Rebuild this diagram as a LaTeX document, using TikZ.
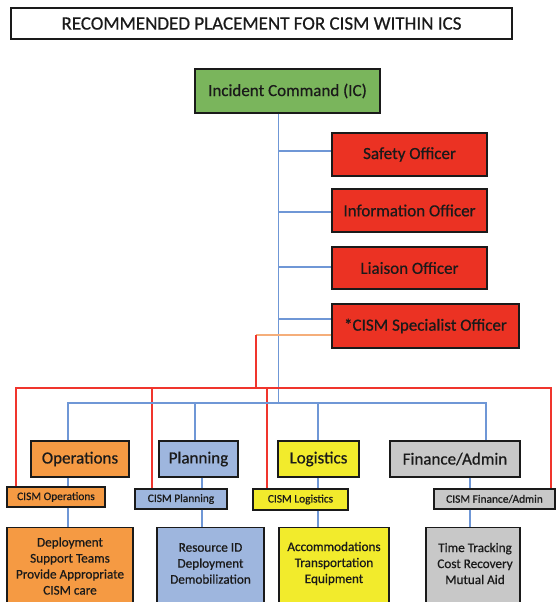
\documentclass[tikz,border=0pt]{standalone}
\usepackage{fontspec}
\setmainfont{Carlito}
\usetikzlibrary{positioning}
\definecolor{icgreen}{HTML}{7AB55C}
\definecolor{offred}{HTML}{EB3223}
\definecolor{opsorange}{HTML}{F59A43}
\definecolor{planblue}{HTML}{9EB6DE}
\definecolor{logyellow}{HTML}{F2EB2C}
\definecolor{fingray}{HTML}{C8C8C8}
\definecolor{lineblue}{HTML}{6F97D6}
\definecolor{linered}{HTML}{F0352D}
\definecolor{lineorange}{HTML}{F5AE7A}
\definecolor{ink}{HTML}{1A1A1A}
\newcommand\inkweight{\addfontfeatures{FakeBold=0.6}}

\begin{document}
\begin{tikzpicture}[x=1pt, y=-1pt,
	box/.style={draw=ink, line width=1.2pt, text=ink, inner sep=0pt, align=center},
	officer/.style={box, fill=offred, font=\fontsize{17}{20}\selectfont\inkweight, minimum height=43pt},
	section/.style={box, font=\fontsize{17}{20}\selectfont\inkweight, minimum height=36pt},
	cism/.style={box, font=\fontsize{11.4}{13}\selectfont\inkweight, minimum height=20pt},
	detail/.style={box, minimum height=90pt, anchor=north},
	dtext/.style={align=center, text=ink, inner sep=0pt, font=\fontsize{13.2}{16}\selectfont\inkweight},
	bline/.style={draw=lineblue, line width=1.3pt},
	rline/.style={draw=linered, line width=1.2pt},
	oline/.style={draw=lineorange, line width=1.2pt}]
			%%%%% START %%%%%
			
			\useasboundingbox (0,0) rectangle (556,602);
			\clip (0,0) rectangle (556,602);
			
			\node[box, minimum width=501pt, minimum height=31pt, font=\fontsize{19}{22}\selectfont\inkweight] (title) at (261.5,23.5) {RECOMMENDED PLACEMENT FOR CISM WITHIN ICS};
			\node[box, fill=icgreen, minimum width=185pt, minimum height=44pt, font=\fontsize{17}{20}\selectfont\inkweight] (ic) at (287.5,91) {Incident Command (IC)};
			
			\node[officer, minimum width=155pt] (safety) at (409.5,154.5) {Safety Officer};
			\node[officer, minimum width=155pt] (info) at (409.5,210.5) {Information Officer};
			\node[officer, minimum width=155pt, minimum height=42pt] (liaison) at (409.5,268) {Liaison Officer};
			\node[officer, minimum width=187pt, minimum height=44pt] (cismso) at (425.5,326) {*CISM Specialist Officer};
			
			\node[section, fill=opsorange, minimum width=98pt] (ops) at (80,459) {Operations};
			\node[section, fill=planblue, minimum width=79pt] (plan) at (198.5,459) {Planning};
			\node[section, fill=logyellow, minimum width=81pt] (log) at (318.5,459) {Logistics};
			\node[section, fill=fingray, minimum width=130pt] (fin) at (455,459) {Finance/Admin};
			
			\node[cism, fill=opsorange, minimum width=98pt] (cops) at (56,497) {CISM Operations};
			\node[cism, fill=planblue, minimum width=92pt] (cplan) at (181,499) {CISM Planning};
			\node[cism, fill=logyellow, minimum width=95pt, minimum height=21pt] (clog) at (300.5,499.5) {CISM Logistics};
			\node[cism, fill=fingray, minimum width=121pt] (cfin) at (494.5,499) {CISM Finance/Admin};
			
			\node[detail, fill=opsorange, minimum width=126pt] (opsdet) at (70,527) {};
			\node[detail, fill=planblue, minimum width=107pt] (plandet) at (210.5,527) {};
			\node[detail, fill=logyellow, minimum width=110pt] (logdet) at (334,527) {};
			\node[detail, fill=fingray, minimum width=94pt] (findet) at (473,527) {};
			\node[dtext] (opstxt) at (70,566) {Deployment\\Support Teams\\Provide Appropriate\\CISM care};
			\node[dtext] (plantxt) at (210.5,563.5) {Resource ID\\Deployment\\Demobilization};
			\node[dtext] (logtxt) at (334,563.5) {Accommodations\\Transportation\\Equipment};
			\node[dtext] (fintxt) at (475,563.5) {Time Tracking\\Cost Recovery\\Mutual Aid};
			
			% command staff
			\coordinate (hub) at (278.5,403);
			\coordinate (sbr) at (278.5,151);
			\coordinate (ibr) at (278.5,212);
			\coordinate (lbr) at (278.5,267);
			\coordinate (cbr) at (278.5,319);
			\draw[bline] (ic.south -| hub) -- (hub);
			\draw[bline] (sbr) -- (sbr -| safety.west);
			\draw[bline] (ibr) -- (ibr -| info.west);
			\draw[bline] (lbr) -- (lbr -| liaison.west);
			\draw[bline] (cbr) -- (cbr -| cismso.west);
			
			% cism links
			\coordinate (obr) at (256,335);
			\coordinate (rjoin) at (256,388);
			\coordinate (rops) at (16,388);
			\coordinate (rplan) at (152,388);
			\coordinate (rlog) at (267,388);
			\coordinate (rfin) at (551,388);
			\draw[oline] (obr -| cismso.west) -- (obr);
			\draw[rline] (obr) -- (rjoin);
			\draw[rline] (rops |- cops.north) -- (rops) -- (rfin) -- (rfin |- cfin.north);
			\draw[rline] (rplan) -- (rplan |- cplan.north);
			\draw[rline] (rlog) -- (rlog |- clog.north);
			
			% general staff
			\coordinate (bops) at (68,403);
			\coordinate (bplan) at (195,403);
			\coordinate (blog) at (318,403);
			\coordinate (bfin) at (486,403);
			\coordinate (lplan) at (202,403);
			\coordinate (lfin) at (470,403);
			\draw[bline] (bops |- ops.north) -- (bops) -- (bfin) -- (bfin |- fin.north);
			\draw[bline] (bplan) -- (bplan |- plan.north);
			\draw[bline] (blog) -- (blog |- log.north);
			\draw[bline] (bops |- ops.south) -- (bops |- cops.north) (bops |- cops.south) -- (bops |- opsdet.north);
			\draw[bline] (lplan |- plan.south) -- (lplan |- cplan.north) (lplan |- cplan.south) -- (lplan |- plandet.north);
			\draw[bline] (blog |- log.south) -- (blog |- clog.north) (blog |- clog.south) -- (blog |- logdet.north);
			\draw[bline] (lfin |- fin.south) -- (lfin |- cfin.north) (lfin |- cfin.south) -- (lfin |- findet.north);
			
			%%%%% END %%%%%
\end{tikzpicture}
\end{document}
